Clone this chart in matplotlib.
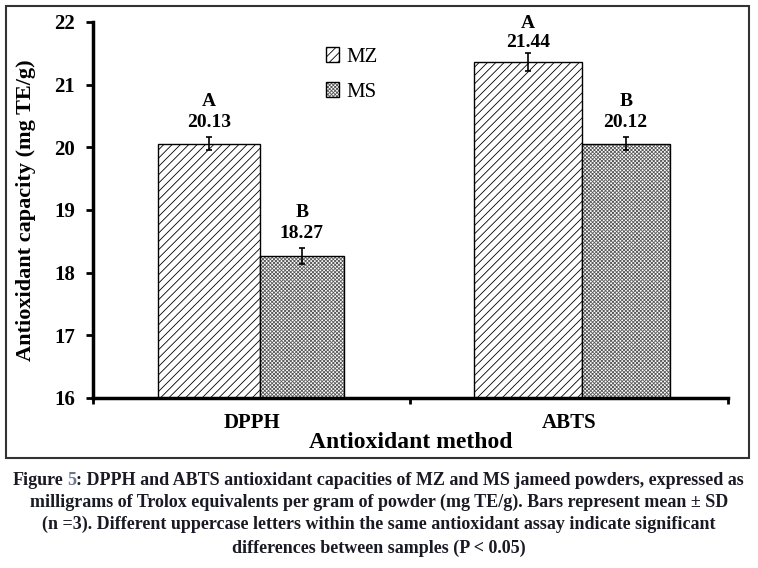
import numpy as np
import matplotlib.pyplot as plt
import matplotlib as mpl
from matplotlib.patches import Rectangle

mpl.rcParams['font.family'] = 'Liberation Serif'
mpl.rcParams['hatch.linewidth'] = 0.6

methods = ['DPPH', 'ABTS']
mz_mean = [20.06, 21.36]
ms_mean = [18.27, 20.06]
mz_sd = [0.11, 0.14]
ms_sd = [0.13, 0.11]
mz_text = ['20.13', '21.44']
ms_text = ['18.27', '20.12']
mz_letter = ['A', 'A']
ms_letter = ['B', 'B']

caption = [
    'DPPH and ABTS antioxidant capacities of MZ and MS jameed powders, expressed as',
    'milligrams of Trolox equivalents per gram of powder (mg TE/g). Bars represent mean \u00b1 SD',
    '(n =3). Different uppercase letters within the same antioxidant assay indicate significant',
    'differences between samples (P < 0.05)',
]

fig = plt.figure(figsize=(7.58, 5.68), dpi=100)
ax = fig.add_axes([0.1227, 0.2993, 0.8373, 0.662])

x = np.arange(len(methods)) + 0.5
# bar layout (the two series meet a little right of the category centre)
split = np.array([0.525, 1.54])
w_mz = np.array([0.32, 0.34])
w_ms = np.array([0.265, 0.277])

mz_bars = ax.bar(split, mz_mean, width=-w_mz, align='edge', color='white',
                 edgecolor='black', hatch='////', linewidth=1.0)
# MS: fine grey stipple drawn in a lighter hatch colour, then a black outline
ms_fill = ax.bar(split, ms_mean, width=w_ms, align='edge', color='white',
                 edgecolor='#5a5a5a', hatch='xxxxxxxxx', linewidth=0)
ms_edge = ax.bar(split, ms_mean, width=w_ms, align='edge', fill=False,
                 edgecolor='black', linewidth=1.0)

mz_x = split - w_mz / 2
ms_x = split + w_ms / 2
ax.errorbar(mz_x, mz_mean, yerr=mz_sd, fmt='none', ecolor='black',
            elinewidth=1.2, capsize=2.5, capthick=1.2)
ax.errorbar(ms_x, ms_mean, yerr=ms_sd, fmt='none', ecolor='black',
            elinewidth=1.2, capsize=2.5, capthick=1.2)

# label offsets above the error bar (points)
mz_off = [(4, 19.5), (2, 15.5)]
ms_off = [(4, 19.5), (4, 19.5)]
for xs, means, sds, texts, letters, offs in [
        (mz_x, mz_mean, mz_sd, mz_text, mz_letter, mz_off),
        (ms_x, ms_mean, ms_sd, ms_text, ms_letter, ms_off)]:
    for cx, m, sd, t, l, (o1, o2) in zip(xs, means, sds, texts, letters, offs):
        ax.annotate(t, (cx, m + sd), xytext=(0, o1), textcoords='offset points',
                    ha='center', va='bottom', fontsize=14, fontweight='bold')
        ax.annotate(l, (cx, m + sd), xytext=(0, o2), textcoords='offset points',
                    ha='center', va='bottom', fontsize=14, fontweight='bold')

ax.set_ylim(16, 22)
ax.set_xlim(0, 2)
ax.set_yticks([16, 17, 18, 19, 20, 21, 22])
ax.set_xticks([0, 1, 2])
ax.set_xticklabels([])
ax.set_xticks(x, minor=True)
ax.set_xticklabels(methods, minor=True)
ax.tick_params(axis='x', which='minor', length=0, pad=11, labelsize=15)
ax.tick_params(axis='x', which='major', length=4, width=2, direction='out')
ax.tick_params(axis='y', length=5, width=2, labelsize=15, pad=8)
for lab in ax.get_xticklabels(minor=True) + ax.get_yticklabels():
    lab.set_fontweight('bold')

ax.spines['top'].set_visible(False)
ax.spines['right'].set_visible(False)
ax.spines['left'].set_linewidth(2.5)
ax.spines['bottom'].set_linewidth(2.5)

ax.set_xlabel('Antioxidant method', fontsize=17, fontweight='bold', labelpad=-1)
ax.set_ylabel('Antioxidant capacity (mg TE/g)', fontsize=16, fontweight='bold', labelpad=13)

ax.legend([mz_bars[0], (ms_fill[0], ms_edge[0])], ['MZ', 'MS'],
          loc='upper left', bbox_to_anchor=(0.337, 0.983), frameon=False,
          fontsize=15, handlelength=0.65, handleheight=0.7, handletextpad=0.35,
          labelspacing=0.75)

fig.patches.append(Rectangle((0.0079, 0.1937), 0.980, 0.795, transform=fig.transFigure,
                             fill=False, edgecolor='#333333', linewidth=1.5))

# caption; the figure number is grey-blue
cap_font = dict(fontsize=13, fontweight='bold', family='Liberation Serif')
cap_col = '#1a1a24'
num_col = '#6a7690'
line_y = [0.158, 0.120, 0.081, 0.039]
renderer = fig.canvas.get_renderer()


def text_w(s):
    t = fig.text(0, 0, s, **cap_font)
    w = t.get_window_extent(renderer).width / fig.bbox.width
    t.remove()
    return w


full = 'Figure 5: ' + caption[0]
x0 = 0.5 - text_w(full) / 2
fig.text(x0, line_y[0], 'Figure', va='center_baseline', color=cap_col, **cap_font)
fig.text(x0 + text_w('Figure 5') - text_w('5') - 0.002, line_y[0], '5',
         va='center_baseline', color=num_col, **cap_font)
fig.text(x0 + text_w('Figure 5') - 0.002, line_y[0], ': ' + caption[0],
         va='center_baseline', color=cap_col, **cap_font)

for s, yy in zip(caption[1:], line_y[1:]):
    fig.text(0.5, yy, s, ha='center', va='center_baseline', color=cap_col, **cap_font)

fig.savefig('out.png', dpi=100)
